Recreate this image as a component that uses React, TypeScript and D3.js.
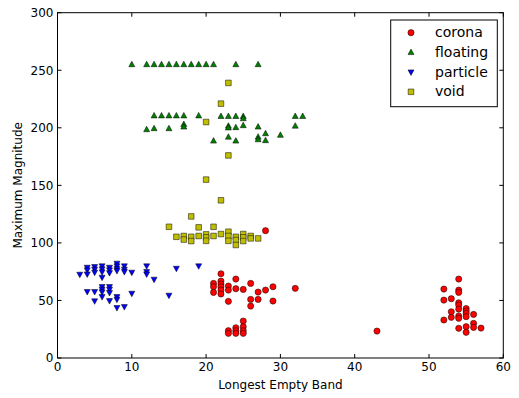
import React from "react";
import * as d3 from "d3";

const xTicks = [0, 10, 20, 30, 40, 50, 60];
const yTicks = [0, 50, 100, 150, 200, 250, 300];

const coronaX = [21,21,21,22,22,22,22,22,22,23,23,23,23,23,24,24,24,24,24,25,25,25,25,25,26,26,26,27,27,28,28,29,29,32,43,52,52,52,53,53,53,54,54,54,54,54,54,54,54,54,55,55,55,55,55,55,56,56,56,57];
const coronaY = [64.8,61.9,57,73.2,66.8,64.2,61.9,59,55.6,62.5,59,49.2,23.7,21.4,68.6,60.2,26.3,23.7,21.4,59.6,32.1,27.2,23.7,21.4,64.8,50.9,45.1,57.3,50.9,59,110.6,61.9,49.5,60.5,23.4,59.9,50.3,33,51.5,40.2,35.3,68.6,59,57,48,46,42.5,36.5,34.5,25.8,43,40.8,38.8,35.9,27.2,22.3,37.9,30.1,26.6,26];

const floatingX = [10,12,13,14,15,16,17,18,19,20,21,24,27, 13,14,15,16,17,19,22,23,24,25,25,32,33, 12,13,15,17,17,23,23,24,25,27,32, 21,23,24,27,27,28,28,30];
const floatingY = [255,255,255,255,255,255,255,255,255,255,255,255,255, 210.5,210.5,210.5,210.5,210.5,210.5,210,210,210,210,208,210,210, 198.5,199.4,199.4,203,200.8,201.6,200,200.3,202,200.8,201.6, 188.6,192,188.6,192,189.8,195,189,193.6];

const particleX = [3,4,4,4,4,5,5,5,5,5,6,6,6,6,6,6,6,6,7,7,7,7,7,7,7,8,8,8,8,8,8,8,9,9,9,9,10,10,12,12,12,13,15,16,19];
const particleY = [72.6,78.7,76.4,72.9,57.6,79.3,77,74.4,57.6,49.5,79.9,77.3,74.7,70,61.9,59.6,57.3,53.2,78.7,76.4,74,61.9,59.6,56.7,49.7,82.2,79.9,77.5,75.8,53.2,50.9,43.7,79.9,77,74.9,44.5,74.4,56.1,79.9,74.9,72.9,68.3,54.4,77.8,79.9];

const voidX = [15,16,17,17,18,18,19,19,20,20,20,21,21,22,23,23,23,24,24,24,25,25,25,26,26,27, 18,22,20,23,20,22,23];
const voidY = [114,105.3,106,102.9,105.3,101.6,113.5,106,107.4,104.8,101.8,114,106,107.7,109.7,106,101.8,105.3,102.5,98.2,107.7,104.8,101.6,106,103.9,103.9, 123,137,155,176,205,221,239];

const seriesNames = ["corona", "floating", "particle", "void"];
const seriesColors = ["#ff0000", "#008000", "#0000ff", "#bfbf00"];

const W = 519, H = 398;
const L = 57.5, R = 503.3, T = 12.7, B = 358;

function markerPath(kind: number): string {
  if (kind === 0) {
    const r = 3.1;
    return `M${r},0A${r},${r} 0 1,1 ${-r},0A${r},${r} 0 1,1 ${r},0Z`;
  }
  if (kind === 1) return "M0,-3.3L3,2.2L-3,2.2Z";
  if (kind === 2) return "M0,3.3L3,-2.2L-3,-2.2Z";
  return "M-2.8,-2.8L2.8,-2.8L2.8,2.8L-2.8,2.8Z";
}

export default function App() {
  const x = d3.scaleLinear().domain([0, 60]).range([L, R]);
  const y = d3.scaleLinear().domain([0, 300]).range([B, T]);
  const series = [
    { xs: coronaX, ys: coronaY },
    { xs: floatingX, ys: floatingY },
    { xs: particleX, ys: particleY },
    { xs: voidX, ys: voidY },
  ];
  const font = "DejaVu Sans, sans-serif";
  const order = [3, 2, 1, 0];
  return (
    <svg width={W} height={H} style={{ position: "absolute", left: 0, top: 0 }} fontFamily={font}>
      <rect x={0} y={0} width={W} height={H} fill="#fff" />
      {order.map((si) => (
        <g key={si}>
          {series[si].xs.map((xv, i) => (
            <path key={i} d={markerPath(si)} transform={`translate(${x(xv)},${y(series[si].ys[i])})`}
              fill={seriesColors[si]} stroke="#000" strokeWidth={0.5} />
          ))}
        </g>
      ))}
      <rect x={L} y={T} width={R - L} height={B - T} fill="none" stroke="#000" strokeWidth={1} />
      {xTicks.map((t) => (
        <g key={"x" + t}>
          <line x1={x(t)} x2={x(t)} y1={B} y2={B - 4} stroke="#000" />
          <line x1={x(t)} x2={x(t)} y1={T} y2={T + 4} stroke="#000" />
          <text x={x(t)} y={B + 13} fontSize={12} textAnchor="middle">{t}</text>
        </g>
      ))}
      {yTicks.map((t) => (
        <g key={"y" + t}>
          <line x1={L} x2={L + 4} y1={y(t)} y2={y(t)} stroke="#000" />
          <line x1={R} x2={R - 4} y1={y(t)} y2={y(t)} stroke="#000" />
          <text x={L - 4} y={y(t) + 4.3} fontSize={12} textAnchor="end">{t}</text>
        </g>
      ))}
      <text x={(L + R) / 2} y={389} fontSize={12} textAnchor="middle">Longest Empty Band</text>
      <text transform={`translate(22,${(T + B) / 2}) rotate(-90)`} fontSize={12} textAnchor="middle">Maximum Magnitude</text>
      <rect x={390.7} y={20} width={106.6} height={86.7} fill="#fff" stroke="#000" strokeWidth={1} />
      {seriesNames.map((n, i) => (
        <g key={n}>
          <path d={markerPath(i)} transform={`translate(411,${32.7 + i * 19.7})`} fill={seriesColors[i]} stroke="#000" strokeWidth={0.5} />
          <text x={435} y={32.7 + i * 19.7 + 4.5} fontSize={14}>{n}</text>
        </g>
      ))}
    </svg>
  );
}
